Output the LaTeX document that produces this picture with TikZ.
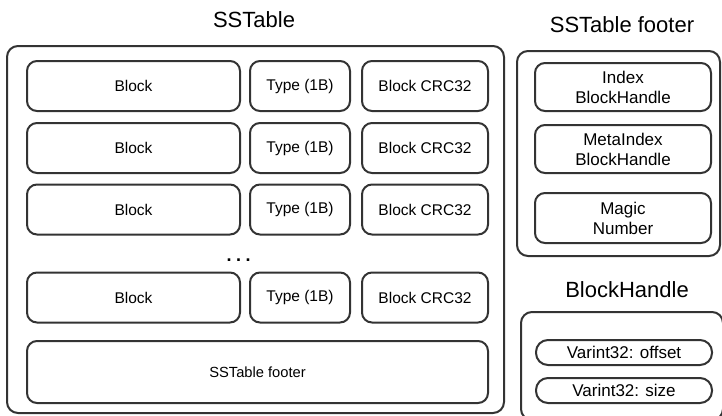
\documentclass[tikz,border=0pt]{standalone}
\usepackage{fontspec}
\setmainfont{Liberation Sans}
\begin{document}
\begin{tikzpicture}[x=1pt,y=-1pt,
  box/.style={draw=linegray, line width=2pt, rounded corners=10pt, inner sep=0pt, align=center, text=black},
  outer/.style={box, rounded corners=11pt},
  pill/.style={box, rounded corners=12pt, minimum width=176pt, minimum height=25pt, font=\fontsize{17}{20}\selectfont},
  rowtxt/.style={font=\fontsize{15.5}{18}\selectfont},
  ftxt/.style={font=\fontsize{17}{20}\selectfont},
  ttl/.style={font=\fontsize{22}{26}\selectfont, inner sep=0pt}]
\definecolor{linegray}{HTML}{333333}
\useasboundingbox (0,0) rectangle (722,415);
\clip (0,0) rectangle (722,415);
% titles
\node[ttl] (t1) at (254,20) {SSTable};
\node[ttl] (t2) at (622,25) {SSTable footer};
\node[ttl] (t3) at (627,290) {BlockHandle};
% SSTable
\node[outer, minimum width=497pt, minimum height=367pt] (sst) at (255.5,229.5) {};
\foreach \i/\y in {1/86,2/148,3/209.5,4/297.5}{
  \node[box, rowtxt, minimum width=213pt, minimum height=50pt] (blk\i) at (133.5,\y) {Block};
  \node[box, rowtxt, minimum width=100pt, minimum height=50pt] (typ\i) at (300,\y) {Type (1B)};
  \node[box, rowtxt, minimum width=126pt, minimum height=50pt] (crc\i) at (425,\y) {Block CRC32};
}
\node[font=\bfseries\fontsize{18}{18}\selectfont, inner sep=0pt, anchor=base] (dots) at (238.5,261) {.\hspace{4.5pt}.\hspace{4.5pt}.};
\node[box, font=\fontsize{14.7}{18}\selectfont, minimum width=461pt, minimum height=62pt] (foot) at (257.5,372) {SSTable footer};
% SSTable footer
\node[outer, minimum width=203pt, minimum height=205pt] (fo) at (618.5,153.5) {};
\node[box, ftxt, minimum width=176pt, minimum height=48pt] (idx) at (623,87) {Index\\BlockHandle};
\node[box, ftxt, minimum width=176pt, minimum height=48pt] (midx) at (623,149) {MetaIndex\\BlockHandle};
\node[box, ftxt, minimum width=176pt, minimum height=50pt] (mag) at (623,218) {Magic\\Number};
% BlockHandle
\node[outer, minimum width=202pt, minimum height=108pt] (bh) at (622,366) {};
\node[pill] (off) at (624,352.5) {Varint32: offset};
\node[pill] (sz) at (624,390.5) {Varint32: size};
\end{tikzpicture}
\end{document}
